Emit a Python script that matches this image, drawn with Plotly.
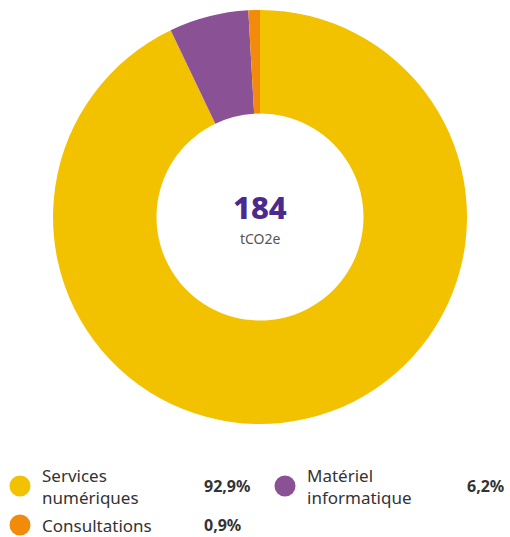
import plotly.graph_objects as go

labels = ["Services numériques", "Matériel informatique", "Consultations"]
legend_lines = [["Services", "numériques"], ["Matériel", "informatique"], ["Consultations"]]
values = [92.9, 6.2, 0.9]
pct_labels = ["92,9%", "6,2%", "0,9%"]
colors = ["#F2C200", "#8A5195", "#F28A0A"]
total_value = "184"
total_unit = "tCO2e"

W, H = 510, 537
FONT = "Noto Sans, Lato, sans-serif"

def px(x):
    return x / W

def py(y):
    return 1 - y / H

cx, cy, r = 260, 217, 207

fig = go.Figure(go.Pie(
    labels=labels, values=values, marker=dict(colors=colors, line=dict(width=0)),
    hole=0.5, sort=False, direction="clockwise", rotation=0,
    textinfo="none", hoverinfo="label+percent", showlegend=False,
    domain=dict(x=[px(cx - r), px(cx + r)], y=[py(cy + r), py(cy - r)]),
))

annotations = [
    dict(x=px(cx), y=py(207), text=total_value, showarrow=False,
         font=dict(size=31, color="#4B2A8F", family="Noto Sans, sans-serif", weight=800),
         xanchor="center", yanchor="middle"),
    dict(x=px(cx), y=py(238), text=total_unit, showarrow=False,
         font=dict(size=14, color="#555555", family=FONT), xanchor="center", yanchor="middle"),
]
shapes = []

# legend layout slots (pixel positions): circle centre x, text x, pct x, row y
slots = [(20, 40, 202, 486), (285, 305, 465, 486), (20, 40, 202, 525)]
for i, (lab_lines, pct, col) in enumerate(zip(legend_lines, pct_labels, colors)):
    ccx, tx, pxx, ry = slots[i]
    shapes.append(dict(type="circle", xref="paper", yref="paper",
                       x0=px(ccx - 10.5), x1=px(ccx + 10.5), y0=py(ry + 10.5), y1=py(ry - 10.5),
                       fillcolor=col, line=dict(width=0)))
    annotations.append(dict(x=px(tx), y=py(ry), text="<br>".join(lab_lines), showarrow=False,
                            xanchor="left", yanchor="middle", align="left",
                            font=dict(size=17, color="#333333", family=FONT)))
    annotations.append(dict(x=px(pxx), y=py(ry), text=f"<b>{pct}</b>", showarrow=False,
                            xanchor="left", yanchor="middle",
                            font=dict(size=16, color="#333333", family=FONT)))

fig.update_layout(
    width=W, height=H, margin=dict(l=0, r=0, t=0, b=0),
    paper_bgcolor="white", plot_bgcolor="white",
    annotations=annotations, shapes=shapes, showlegend=False,
)
fig.write_html("out.html", config={"displayModeBar": False},
               post_script="document.body.style.margin='0';document.body.style.overflow='hidden';")
